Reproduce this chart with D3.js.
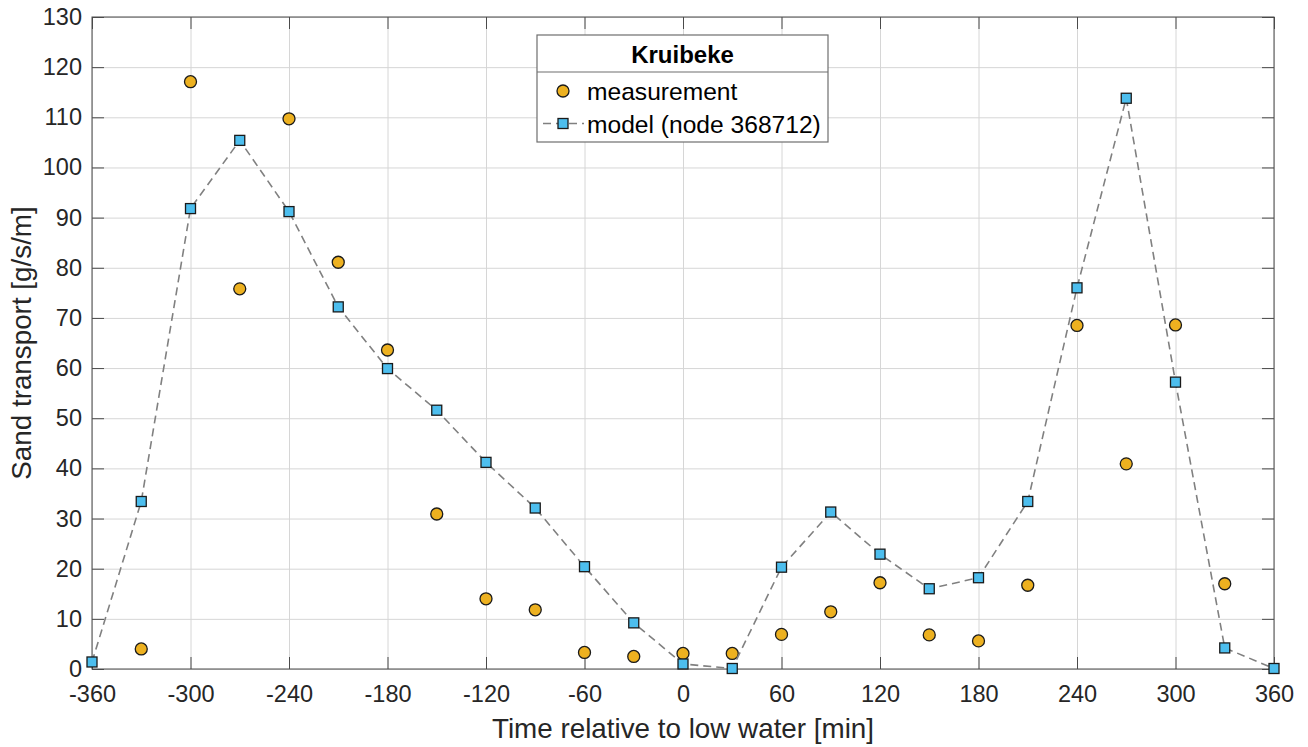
<!DOCTYPE html>
<html>
<head>
<meta charset="utf-8">
<script src="https://cdn.jsdelivr.net/npm/d3@7"></script>
<style>
  html, body { margin: 0; padding: 0; background: #fff; }
  svg { display: block; font-family: "Liberation Sans", Arial, sans-serif; }
</style>
</head>
<body>
<svg id="chart" width="1308" height="747"></svg>
<script>
// ---- data ----
const modelTimes = [-360,-330,-300,-270,-240,-210,-180,-150,-120,-90,-60,-30,0,30,60,90,120,150,180,210,240,270,300,330,360];
const modelValues = [1.4,33.4,91.8,105.4,91.2,72.2,59.9,51.6,41.2,32.1,20.4,9.2,1.0,0.1,20.3,31.3,22.9,16.0,18.2,33.4,76.0,113.8,57.2,4.2,0.1];
const measTimes = [-330,-300,-270,-240,-210,-180,-150,-120,-90,-60,-30,0,30,60,90,120,150,180,210,240,270,300,330];
const measValues = [4.0,117.1,75.8,109.7,81.1,63.6,30.9,14.0,11.8,3.3,2.5,3.1,3.1,6.9,11.4,17.2,6.8,5.6,16.7,68.5,40.9,68.6,17.0];
const xTicks = [-360,-300,-240,-180,-120,-60,0,60,120,180,240,300,360];
const yTicks = [0,10,20,30,40,50,60,70,80,90,100,110,120,130];
const legendTitle = "Kruibeke";
const seriesNames = ["measurement", "model (node 368712)"];
const xLabel = "Time relative to low water [min]";
const yLabel = "Sand transport [g/s/m]";

// ---- layout ----
const L = 92, R = 1274, T = 17, B = 669;
const W = R - L, H = B - T;
const textColor = "#262626";

const svg = d3.select("#chart");
const x = d3.scaleLinear().domain([-360, 360]).range([L, R]);
const y = d3.scaleLinear().domain([0, 130]).range([B, T]);

// grid
const grid = svg.append("g");
grid.append("g").attr("transform", `translate(0,${B})`)
  .call(d3.axisBottom(x).tickValues(xTicks).tickSize(-H).tickFormat(""))
  .call(g => g.select(".domain").remove())
  .call(g => g.selectAll("line").attr("stroke", "#d6d6d6").attr("stroke-width", 1));
grid.append("g").attr("transform", `translate(${L},0)`)
  .call(d3.axisLeft(y).tickValues(yTicks).tickSize(-W).tickFormat(""))
  .call(g => g.select(".domain").remove())
  .call(g => g.selectAll("line").attr("stroke", "#d6d6d6").attr("stroke-width", 1));

// axes with inward ticks
const axisStyle = g => {
  g.select(".domain").remove();
  g.selectAll("line").attr("stroke", "#4a4a4a").attr("stroke-width", 1);
  g.selectAll("text").attr("fill", textColor).style("font-size", "23.5px");
};
svg.append("g").attr("transform", `translate(0,${B})`)
  .call(d3.axisBottom(x).tickValues(xTicks).tickSizeInner(-12).tickSizeOuter(0).tickPadding(16).tickFormat(d => String(d)))
  .call(axisStyle);
svg.append("g").attr("transform", `translate(0,${T})`)
  .call(d3.axisTop(x).tickValues(xTicks).tickSizeInner(-12).tickSizeOuter(0).tickFormat(""))
  .call(axisStyle);
svg.append("g").attr("transform", `translate(${L},0)`)
  .call(d3.axisLeft(y).tickValues(yTicks).tickSizeInner(-12).tickSizeOuter(0).tickPadding(10).tickFormat(d => String(d)))
  .call(axisStyle);
svg.append("g").attr("transform", `translate(${R},0)`)
  .call(d3.axisRight(y).tickValues(yTicks).tickSizeInner(-12).tickSizeOuter(0).tickFormat(""))
  .call(axisStyle);
svg.selectAll("g").attr("font-family", null);

// box
svg.append("rect").attr("x", L).attr("y", T).attr("width", W).attr("height", H)
  .attr("fill", "none").attr("stroke", "#4a4a4a").attr("stroke-width", 1);

// axis labels
svg.append("text").attr("x", (L + R) / 2).attr("y", 738).attr("text-anchor", "middle")
  .attr("fill", textColor).style("font-size", "27.8px").text(xLabel);
svg.append("text").attr("transform", `translate(31,${(T + B) / 2}) rotate(-90)`).attr("text-anchor", "middle")
  .attr("fill", textColor).style("font-size", "27.8px").text(yLabel);

const circleFill = "#EDB120", squareFill = "#4DBEEE";
const lineColor = "#808080";
const sq = 10;
const cr = 6;

// measurement circles
svg.append("g").selectAll("circle").data(measTimes.map((t, i) => [t, measValues[i]])).join("circle")
  .attr("cx", d => x(d[0])).attr("cy", d => y(d[1])).attr("r", cr)
  .attr("fill", circleFill).attr("stroke", "#1a1a1a").attr("stroke-width", 1.3);

// model line
const modelData = modelTimes.map((t, i) => [t, modelValues[i]]);
svg.append("path").datum(modelData)
  .attr("d", d3.line().x(d => x(d[0])).y(d => y(d[1])))
  .attr("fill", "none").attr("stroke", lineColor).attr("stroke-width", 1.6)
  .attr("stroke-dasharray", "8,5");
svg.append("g").selectAll("rect").data(modelData).join("rect")
  .attr("x", d => x(d[0]) - sq / 2).attr("y", d => y(d[1]) - sq / 2)
  .attr("width", sq).attr("height", sq)
  .attr("fill", squareFill).attr("stroke", "#1a1a1a").attr("stroke-width", 1.3);

// legend
const lg = svg.append("g");
const lx0 = 537, lx1 = 828, ly0 = 35, ly1 = 142, lsep = 72;
lg.append("rect").attr("x", lx0).attr("y", ly0).attr("width", lx1 - lx0).attr("height", ly1 - ly0)
  .attr("fill", "#fff").attr("stroke", "#6e6e6e").attr("stroke-width", 1.2);
lg.append("line").attr("x1", lx0).attr("x2", lx1).attr("y1", lsep).attr("y2", lsep)
  .attr("stroke", "#6e6e6e").attr("stroke-width", 1.2);
lg.append("text").attr("x", (lx0 + lx1) / 2).attr("y", 63).attr("text-anchor", "middle")
  .attr("fill", "#000").style("font-size", "24px").style("font-weight", "bold").text(legendTitle);
lg.append("circle").attr("cx", 563).attr("cy", 91).attr("r", cr)
  .attr("fill", circleFill).attr("stroke", "#1a1a1a").attr("stroke-width", 1.3);
lg.append("text").attr("x", 587).attr("y", 100).attr("fill", "#000").style("font-size", "24.6px").text(seriesNames[0]);
lg.append("line").attr("x1", 543).attr("x2", 584).attr("y1", 123.5).attr("y2", 123.5)
  .attr("stroke", lineColor).attr("stroke-width", 1.6).attr("stroke-dasharray", "8,5");
lg.append("rect").attr("x", 563 - sq / 2).attr("y", 123.5 - sq / 2).attr("width", sq).attr("height", sq)
  .attr("fill", squareFill).attr("stroke", "#1a1a1a").attr("stroke-width", 1.3);
lg.append("text").attr("x", 587).attr("y", 133).attr("fill", "#000").style("font-size", "24.6px").text(seriesNames[1]);
</script>
</body>
</html>
